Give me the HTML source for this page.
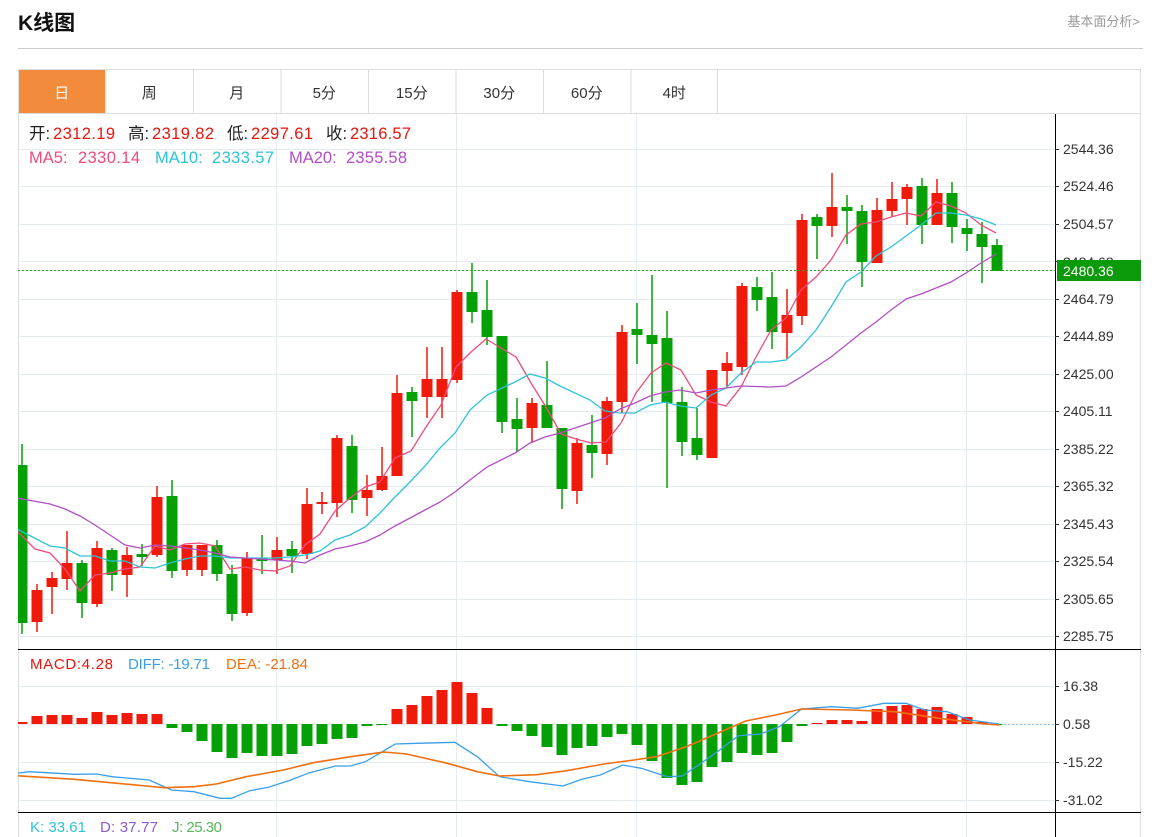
<!DOCTYPE html>
<html><head><meta charset="utf-8">
<style>
body{margin:0;background:#fff;width:1163px;height:837px;overflow:hidden;font-family:"Liberation Sans","Noto Sans CJK SC",sans-serif;}
svg{position:absolute;left:0;top:0}
</style></head><body>
<svg id="s" width="1163" height="837" xmlns="http://www.w3.org/2000/svg" font-family="Liberation Sans, Noto Sans CJK SC, sans-serif">
<defs><clipPath id="cp"><rect x="18" y="114" width="1037" height="723"/></clipPath></defs>
<text x="18" y="30" font-size="21" font-weight="bold" fill="#111">K线图</text>
<text x="1140" y="26" font-size="13" fill="#999" text-anchor="end">基本面分析&gt;</text>
<line x1="18" y1="48.5" x2="1143" y2="48.5" stroke="#ccc"/>
<rect x="18.5" y="69.5" width="1122" height="780" fill="none" stroke="#ddd"/>
<line x1="18" y1="113.5" x2="1141" y2="113.5" stroke="#ddd"/>
<rect x="19" y="70" width="86" height="43" fill="#f28c3c"/>
<g id="tabs" font-size="15" fill="#333" text-anchor="middle"></g>
<g id="grid"></g>
<g id="plot" clip-path="url(#cp)"></g>
<line x1="1055.5" y1="114" x2="1055.5" y2="837" stroke="#000"/>
<line x1="18" y1="649.5" x2="1141" y2="649.5" stroke="#000"/>
<line x1="18" y1="812.5" x2="1141" y2="812.5" stroke="#000"/>
<g id="axis" font-size="14" fill="#333"></g>
<line x1="18" y1="270.5" x2="1055" y2="270.5" stroke="#22aa22" stroke-dasharray="2,2"/>
<text x="1063" y="267" font-size="14" fill="#333">2484.68</text>
<rect x="1057" y="260" width="84" height="21" fill="#0a9a0a"/>
<text x="1063" y="276" font-size="14" fill="#fff">2480.36</text>
<g font-size="16.5">
<text x="29" y="139" fill="#222">开:</text><text x="53" y="139" fill="#e8150c" textLength="62">2312.19</text>
<text x="128" y="139" fill="#222">高:</text><text x="152" y="139" fill="#e8150c" textLength="62">2319.82</text>
<text x="227" y="139" fill="#222">低:</text><text x="251" y="139" fill="#e8150c" textLength="62">2297.61</text>
<text x="326" y="139" fill="#222">收:</text><text x="350" y="139" fill="#e8150c" textLength="61">2316.57</text>
<text x="29" y="163" fill="#ef4b7c">MA5:</text><text x="78" y="163" fill="#ef4b7c" textLength="62">2330.14</text>
<text x="155" y="163" fill="#2cc3d8">MA10:</text><text x="212" y="163" fill="#2cc3d8" textLength="62">2333.57</text>
<text x="289" y="163" fill="#b04fc4">MA20:</text><text x="346" y="163" fill="#b04fc4" textLength="61">2355.58</text>
</g>
<g font-size="15">
<text x="30" y="669" fill="#e8150c" textLength="83">MACD:4.28</text>
<text x="128" y="669" fill="#3a9ee8" textLength="82">DIFF: -19.71</text>
<text x="226" y="669" fill="#f07010" textLength="82">DEA: -21.84</text>
<text x="30" y="832" fill="#2cc3d8" textLength="56">K: 33.61</text>
<text x="100" y="832" fill="#8a5cd0" textLength="58">D: 37.77</text>
<text x="172" y="832" fill="#5ab45a" textLength="50">J: 25.30</text>
</g>
</svg>
<script>
var NS="http://www.w3.org/2000/svg";
function el(p,t,a,txt){var e=document.createElementNS(NS,t);for(var k in a)e.setAttribute(k,a[k]);if(txt!=null)e.textContent=txt;document.getElementById(p).appendChild(e);return e;}
var tabs=["日","周","月","5分","15分","30分","60分","4时"];
tabs.forEach(function(t,i){var cx=18+87.5*i+43.75;el("tabs","text",{x:cx,y:98,fill:i==0?"#fff":"#333"},t);if(i>0)el("tabs","line",{x1:18+87.5*i+.5,y1:70,x2:18+87.5*i+.5,y2:113,stroke:"#ddd"});});
el("tabs","line",{x1:717.5,y1:70,x2:717.5,y2:113,stroke:"#ddd"});
var py=[149,186,224,261,299,336,374,411,449,486,524,561,599,636],pl=["2544.36","2524.46","2504.57","2484.68","2464.79","2444.89","2425.00","2405.11","2385.22","2365.32","2345.43","2325.54","2305.65","2285.75"];
py.forEach(function(y,i){el("grid","line",{x1:18,y1:y+.5,x2:1055,y2:y+.5,stroke:"#e4ecf2"});el("axis","line",{x1:1055,y1:y+.5,x2:1059,y2:y+.5,stroke:"#333"});if(i!=3)el("axis","text",{x:1063,y:y+5},pl[i]);});
[686,724,762,800].forEach(function(y,i){el("grid","line",{x1:18,y1:y+.5,x2:1055,y2:y+.5,stroke:"#e4ecf2"});el("axis","line",{x1:1055,y1:y+.5,x2:1059,y2:y+.5,stroke:"#333"});el("axis","text",{x:1063,y:y+5},["16.38","0.58","-15.22","-31.02"][i]);});
[276,456,636,966].forEach(function(x){el("grid","line",{x1:x+.5,y1:114,x2:x+.5,y2:837,stroke:"#e4ecf2"});});
el("grid","line",{x1:996,y1:724.5,x2:1055,y2:724.5,stroke:"#8cc4ee","stroke-dasharray":"2,2"});
var C=[[444,465,623,634,"g"],[584,590,622,632,"r"],[572,578,587,614,"r"],[531,563,579,590,"r"],[560,563,603,618,"g"],[541,548,604,607,"r"],[548,550,575,591,"g"],[547,555,575,597,"r"],[544,554,557,566,"g"],[486,497,555,557,"r"],[480,496,571,578,"g"],[545,545,570,576,"r"],[545,545,570,576,"r"],[540,545,574,581,"g"],[565,574,614,621,"g"],[552,558,613,616,"r"],[535,558,561,574,"g"],[537,550,560,574,"r"],[541,549,556,573,"g"],[488,504,554,559,"r"],[492,502,504,514,"r"],[435,438,503,517,"r"],[435,446,500,513,"g"],[475,490,498,516,"r"],[447,476,490,491,"r"],[375,393,476,476,"r"],[387,392,401,437,"g"],[347,379,397,418,"r"],[347,379,397,418,"r"],[290,292,380,383,"r"],[263,292,312,323,"g"],[280,310,337,345,"g"],[336,336,422,433,"g"],[398,419,429,452,"g"],[398,403,428,443,"r"],[361,405,428,428,"g"],[428,428,489,509,"g"],[438,443,491,504,"r"],[415,445,453,478,"g"],[397,401,454,465,"r"],[325,332,402,413,"r"],[303,329,335,364,"g"],[275,335,344,402,"g"],[311,338,403,488,"g"],[387,402,442,456,"g"],[408,438,455,460,"g"],[370,370,458,458,"r"],[352,363,371,388,"r"],[283,286,367,375,"r"],[277,287,300,311,"g"],[272,297,332,349,"g"],[289,315,333,359,"r"],[214,220,316,325,"r"],[214,217,226,259,"g"],[173,207,226,237,"r"],[195,207,211,244,"g"],[205,211,262,287,"g"],[198,210,263,263,"r"],[182,199,211,217,"r"],[184,187,199,225,"r"],[178,186,225,244,"g"],[179,193,225,225,"r"],[182,193,227,243,"g"],[219,228,234,251,"g"],[222,234,247,283,"g"],[239,245,271,271,"g"]];
var R="#f01a0a",G="#05a005";
C.forEach(function(c,i){var x=22+15*i,col=c[4]=="r"?R:G;el("plot","line",{x1:x,y1:c[0],x2:x,y2:c[3],stroke:col,"stroke-width":1.5});el("plot","rect",{x:x-5.5,y:c[1],width:11,height:Math.max(2,c[2]-c[1]),fill:col});});
function pl2(pts,col,w){el("plot","polyline",{points:pts,fill:"none",stroke:col,"stroke-width":w||1.3});}
pl2("17,531 35,549 50,553 65,569 80,591 95,575 110,573 125,569 140,567 155,546 170,550 185,544 200,543 215,546 230,569 245,567 260,570 275,571 290,566 305,545 320,534 335,511 350,498 365,487 380,482 395,458 411,451 426,427 441,405 456,367 471,352 486,339 501,348 516,357 531,383 546,407 561,434 576,439 591,443 606,442 621,423 636,393 651,373 666,363 681,370 696,395 711,402 726,406 741,387 756,357 771,330 786,318 801,290 816,277 831,260 846,235 861,224 876,222 891,217 906,213 921,216 936,202 951,206 966,213 981,225 996,233","#ef4b7c");
pl2("17,529 50,546 65,548 80,556 95,556 110,561 125,561 140,567 155,568 170,563 185,559 200,556 215,556 230,558 245,558 260,558 275,558 290,557 305,555 320,551 335,540 350,535 365,527 380,513 395,497 410,482 425,466 440,448 455,433 470,410 487,395 515,382 530,374 545,378 560,386 590,400 605,411 620,413 635,413 650,405 665,402 680,406 696,408 711,395 726,388 741,373 756,362 771,362 786,360 801,347 816,330 831,307 846,282 861,272 876,256 891,247 906,236 921,225 936,213 951,213 966,215 981,219 996,225","#2cc3d8");
pl2("17,498 50,504 65,509 80,516 95,525 110,535 125,545 140,548 155,545 170,546 185,548 200,550 215,553 230,557 245,558 260,559 275,560 290,561 305,563 320,555 335,549 350,546 365,542 380,535 395,526 410,518 425,510 440,502 455,492 470,480 487,467 515,453 530,443 545,437 560,433 575,428 590,423 605,418 620,409 635,403 650,396 665,392 680,390 696,393 711,390 741,386 771,387 786,386 801,377 816,367 831,357 846,345 861,333 876,322 891,310 906,299 921,294 936,288 951,282 966,273 981,263 996,254","#b04fc4");
var M=[722,716,715,715,718,712,715,713,714,714,728,732,741,752,758,753,756,756,754,746,744,739,738,726,725,709,705,696,690,682,693,708,726,731,736,747,755,748,746,737,734,745,761,778,785,782,767,762,753,755,753,742,726,723,720,720,721,709,706,705,709,707,714,717,722,725];
M.forEach(function(y,i){var x=22+15*i;var t=Math.min(y,724),b=Math.max(y,724);if(b-t<1)return;el("plot","rect",{x:x-5.5,y:t,width:11,height:b-t,fill:y<724?R:G});});
function cv(a){return a.map(function(p){return (p[0]/1.341).toFixed(1)+","+(640+p[1]/3).toFixed(1);}).join(" ");}
pl2(cv([[22,400],[40,395],[100,403],[130,402],[150,410],[200,420],[230,450],[260,455],[295,475],[310,475],[335,452],[360,442],[390,420],[415,398],[450,378],[470,378],[490,365],[530,312],[560,310],[610,307],[640,350],[670,410],[710,425],[755,438],[780,418],[805,405],[835,375],[860,385],[895,410],[915,408],[940,370],[965,330],[990,287],[1020,282],[1045,260],[1075,207],[1115,200],[1150,205],[1185,190],[1215,190],[1240,210],[1270,215],[1300,240],[1340,252]]),"#3a9ee8");
pl2(cv([[22,407],[100,418],[220,443],[260,440],[290,432],[330,410],[380,390],[420,368],[470,350],[515,336],[545,342],[600,370],[640,395],[670,408],[720,404],[760,392],[810,372],[850,360],[880,350],[920,320],[960,282],[1000,243],[1040,225],[1075,207],[1140,210],[1200,215],[1260,235],[1320,252],[1340,255]]),"#f07010",1.6);
</script>
</body></html>
